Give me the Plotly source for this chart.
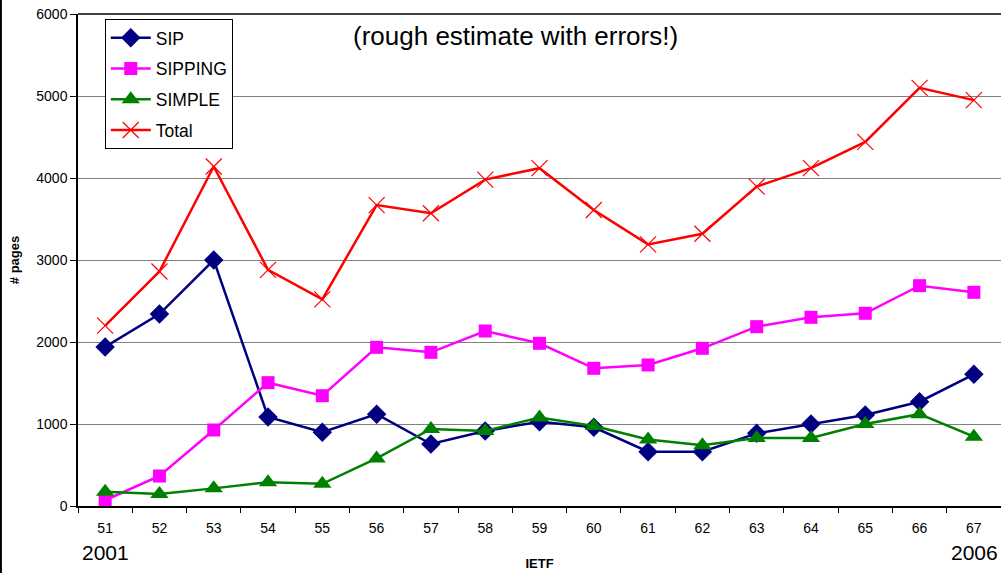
import plotly.graph_objects as go

ietf = ["51", "52", "53", "54", "55", "56", "57", "58", "59", "60", "61", "62", "63", "64", "65", "66", "67"]
sip = [1940, 2340, 3000, 1085, 900, 1120, 756, 915, 1028, 960, 662, 662, 886, 1000, 1110, 1272, 1606]
sipping = [70, 366, 927, 1504, 1345, 1935, 1874, 2134, 1984, 1679, 1720, 1923, 2187, 2301, 2350, 2687, 2606]
simple = [175, 145, 215, 290, 270, 580, 940, 915, 1080, 975, 810, 740, 830, 830, 1000, 1120, 845]
total = [2200, 2860, 4140, 2880, 2520, 3670, 3570, 3980, 4120, 3610, 3190, 3320, 3895, 4120, 4440, 5100, 4950]

FONT = "Liberation Sans, Arial, sans-serif"

fig = go.Figure()
fig.add_trace(go.Scatter(x=ietf, y=sip, name="SIP", mode="lines+markers", legendgroup="a",
                         line=dict(color="#000080", width=2.5),
                         marker=dict(symbol="diamond", size=15, color="#000080")))
fig.add_trace(go.Scatter(x=ietf, y=sipping, name="SIPPING", mode="lines+markers", legendgroup="b",
                         line=dict(color="#FF00FF", width=2.5),
                         marker=dict(symbol="square", size=13, color="#FF00FF")))
fig.add_trace(go.Scatter(x=ietf, y=simple, name="SIMPLE", mode="lines+markers", legendgroup="c",
                         line=dict(color="#008000", width=2.5),
                         marker=dict(symbol="triangle-up", size=16, color="#008000")))
fig.add_trace(go.Scatter(x=ietf, y=total, name="Total", mode="lines+markers", legendgroup="d",
                         line=dict(color="#FF0000", width=2.5),
                         marker=dict(symbol="x-thin-open", size=16,
                                     line=dict(color="#FF0000", width=1.2))))

fig.update_layout(
    width=1001, height=573,
    margin=dict(l=78, r=0, t=14, b=67),
    paper_bgcolor="white", plot_bgcolor="white",
    font=dict(family=FONT, color="black", size=14),
    showlegend=True,
    legend=dict(x=0.029, y=0.990, xanchor="left", yanchor="top",
                bgcolor="white", bordercolor="black", borderwidth=1,
                font=dict(family=FONT, size=17.5), tracegroupgap=5,
                itemwidth=40),
    xaxis=dict(type="category", range=[-0.5, 16.5], showgrid=False,
               showline=True, linecolor="black", linewidth=1.5,
               ticks="outside", tickson="boundaries", ticklen=5, tickcolor="black",
               ticklabelstandoff=8,
               tickfont=dict(size=14), title=dict(text="<b>IETF</b>", font=dict(size=13), standoff=24)),
    yaxis=dict(range=[0, 6000], dtick=1000, showgrid=True, gridcolor="#808080", gridwidth=1,
               showline=True, linecolor="black", linewidth=1.5,
               ticks="outside", ticklen=6, tickcolor="black",
               tickfont=dict(size=14), zeroline=False, ticklabeloverflow="allow",
               title=dict(text="<b># pages</b>", font=dict(size=13), standoff=14)),
    annotations=[
        dict(text="(rough estimate with errors!)", xref="paper", yref="paper",
             x=0.4745, y=0.955, xanchor="center", yanchor="middle", showarrow=False,
             font=dict(size=26)),
        dict(text="2001", xref="paper", yref="paper", x=0.03, y=-0.0955,
             xanchor="center", yanchor="middle", showarrow=False, font=dict(size=21)),
        dict(text="2006", xref="paper", yref="paper", x=0.971, y=-0.0955,
             xanchor="center", yanchor="middle", showarrow=False, font=dict(size=21)),
    ],
    shapes=[
        dict(type="line", xref="paper", yref="paper", x0=0, x1=1, y0=1, y1=1,
             line=dict(color="black", width=1.5)),
        dict(type="line", xref="paper", yref="paper", x0=-0.0835, x1=-0.0835,
             y0=-0.14, y1=1.03, line=dict(color="black", width=2)),
    ],
)

fig.write_html("out.html", config={"displayModeBar": False},
               post_script="document.body.style.margin='0';document.body.style.overflow='hidden';")
